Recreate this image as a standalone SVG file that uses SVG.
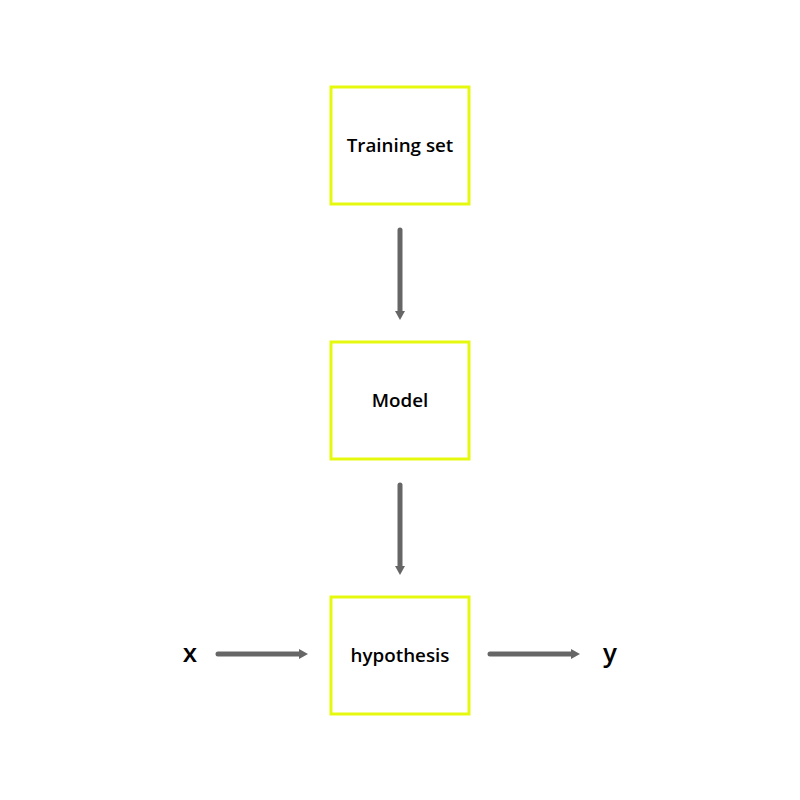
<svg xmlns="http://www.w3.org/2000/svg" width="800" height="800" viewBox="0 0 800 800">
<style>
.box{fill:#fff;stroke:#e5f90f;stroke-width:3}
.lbl{font-family:"Open Sans",Lato,sans-serif;font-weight:600;font-size:18.8px;fill:#000;text-anchor:middle;dominant-baseline:central}
.var{font-family:"Open Sans",Lato,sans-serif;font-weight:600;font-size:26px;fill:#000;text-anchor:middle;dominant-baseline:central}
.edge{stroke:#666;stroke-width:5;stroke-linecap:round;fill:none;marker-end:url(#ah)}
</style>
<defs>
<marker id="ah" markerUnits="userSpaceOnUse" markerWidth="12" markerHeight="12" refX="0" refY="6" orient="auto">
<path d="M0,1 L9,6 L0,11 Z" fill="#666"/>
</marker>
</defs>
<rect width="800" height="800" fill="#fff"/>
<g id="training"><rect class="box" x="331" y="87" width="138" height="117"/><text class="lbl" x="400" y="144.5">Training set</text></g>
<g id="model"><rect class="box" x="331" y="342" width="138" height="117"/><text class="lbl" x="400" y="399.5">Model</text></g>
<g id="hypothesis"><rect class="box" x="331" y="597" width="138" height="117"/><text class="lbl" x="400" y="654.5">hypothesis</text></g>
<g id="x"><text class="var" x="190" y="652">x</text></g>
<g id="y"><text class="var" x="610" y="652">y</text></g>
<g id="connectors">
<line class="edge" x1="400" y1="230" x2="400" y2="311"/>
<line class="edge" x1="400" y1="485" x2="400" y2="566"/>
<line class="edge" x1="218" y1="654" x2="299" y2="654"/>
<line class="edge" x1="490" y1="654" x2="571" y2="654"/>
</g>
</svg>
